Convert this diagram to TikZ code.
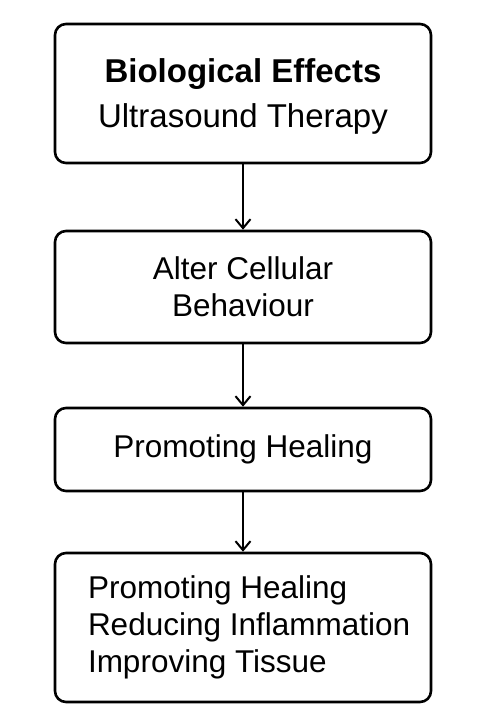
\documentclass[tikz,border=0pt]{standalone}
\usepackage{fontspec}
\setmainfont{Liberation Sans}
\usetikzlibrary{arrows.meta}
\begin{document}
\begin{tikzpicture}[x=1pt,y=-1pt,
  box/.style={draw=black,line width=2.6pt,rounded corners=11pt,minimum width=376pt,inner sep=0pt,fill=white},
  txt/.style={font=\fontsize{31.5}{37}\selectfont},
  conn/.style={draw=black,line width=2pt,-{Straight Barb[length=9pt,width=15pt,line width=2pt]}}]
\useasboundingbox[fill=white] (0,0) rectangle (486,728);
\node[box,minimum height=139pt,align=center,text depth=0pt,font=\fontsize{33}{45}\selectfont] (b1) at (243,93.5) {\textbf{Biological Effects}\\Ultrasound Therapy};
\node[box,minimum height=112pt,align=center,txt] (b2) at (243,287) {Alter Cellular\\Behaviour};
\node[box,minimum height=83pt,align=center,txt] (b3) at (243,449.5) {Promoting Healing};
\node[box,minimum height=149pt,inner xsep=33pt,text width=310pt,align=flush left,txt] (b4) at (243,627.5) {\mbox{Promoting Healing}\\\mbox{Reducing Inflammation}\\\mbox{Improving Tissue}};
\draw[conn] (b1) -- (b2);
\draw[conn] (b2) -- (b3);
\draw[conn] (b3) -- (b4);
\end{tikzpicture}
\end{document}
